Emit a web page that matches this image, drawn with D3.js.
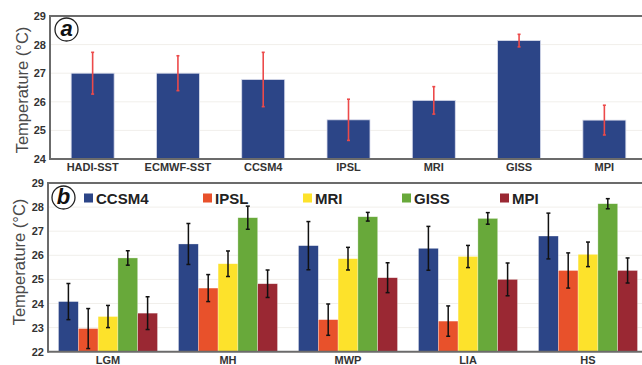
<!DOCTYPE html>
<html lang="en">
<head>
<meta charset="utf-8">
<title>Temperature</title>
<script src="https://d3js.org/d3.v7.min.js"></script>
<style>
  body { margin: 0; background: #fff; }
  text { font-family: Arial, "Liberation Sans", sans-serif; }
</style>
</head>
<body>
<div id="viz"></div>
<script>
// panel a: observations and models
const datasetsA = ["HADI-SST", "ECMWF-SST", "CCSM4", "IPSL", "MRI", "GISS", "MPI"];
const meanA = [27.0, 27.0, 26.78, 25.37, 26.05, 28.14, 25.36];
const errA = [0.73, 0.61, 0.95, 0.72, 0.48, 0.22, 0.52];
const ticksA = [24, 25, 26, 27, 28, 29];

// panel b: models per period
const periods = ["LGM", "MH", "MWP", "LIA", "HS"];
const models = ["CCSM4", "IPSL", "MRI", "GISS", "MPI"];
const meanB = {
  CCSM4: [24.08, 26.47, 26.40, 26.29, 26.80],
  IPSL:  [22.96, 24.64, 23.33, 23.27, 25.37],
  MRI:   [23.46, 25.65, 25.86, 25.95, 26.04],
  GISS:  [25.89, 27.56, 27.60, 27.53, 28.14],
  MPI:   [23.60, 24.82, 25.07, 25.00, 25.37]
};
const errB = {
  CCSM4: [0.75, 0.85, 1.00, 0.91, 0.95],
  IPSL:  [0.83, 0.56, 0.65, 0.63, 0.73],
  MRI:   [0.46, 0.53, 0.47, 0.46, 0.51],
  GISS:  [0.30, 0.48, 0.18, 0.24, 0.21],
  MPI:   [0.68, 0.57, 0.62, 0.68, 0.52]
};
const ticksB = [22, 23, 24, 25, 26, 27, 28, 29];
const colors = ["#2c4587", "#e8512b", "#fde22b", "#68a93a", "#9a2833"];

const W = 642, H = 365;
const svg = d3.select("#viz").append("svg")
    .attr("width", W).attr("height", H);

const axisColor = "#6b6b6b";

function yAxis(g, y, x0, ticks, xEnd) {
  // faint grid
  g.append("g").selectAll("line").data(ticks).join("line")
      .attr("x1", x0).attr("x2", xEnd)
      .attr("y1", d => y(d)).attr("y2", d => y(d))
      .attr("stroke", "#f1efeb").attr("stroke-width", 1);
  const ax = g.append("g")
      .attr("transform", `translate(${x0},0)`)
      .call(d3.axisLeft(y).tickValues(ticks).tickSize(0).tickPadding(4).tickFormat(d3.format("d")));
  ax.select(".domain").remove();
  ax.selectAll("text")
      .attr("font-size", 11).attr("font-weight", "bold").attr("fill", "#333");
}

function frame(g, x0, yTop, yBot) {
  g.append("line").attr("x1", x0).attr("x2", W).attr("y1", yTop).attr("y2", yTop)
      .attr("stroke", axisColor).attr("stroke-width", 2);
  g.append("line").attr("x1", x0).attr("x2", W).attr("y1", yBot).attr("y2", yBot)
      .attr("stroke", axisColor).attr("stroke-width", 2);
  g.append("line").attr("x1", x0).attr("x2", x0).attr("y1", yTop - 1).attr("y2", yBot + 1)
      .attr("stroke", axisColor).attr("stroke-width", 2);
}

function panelLabel(g, cx, cy, letter) {
  g.append("circle").attr("cx", cx).attr("cy", cy).attr("r", 11.5)
      .attr("fill", "#fff").attr("stroke", "#222").attr("stroke-width", 1.3);
  g.append("text").attr("x", cx).attr("y", cy + 6)
      .attr("text-anchor", "middle")
      .attr("font-family", "'Liberation Serif', 'DejaVu Serif', serif")
      .attr("font-style", "italic").attr("font-weight", "bold")
      .attr("font-size", 22).attr("fill", "#111")
      .text(letter);
}

function yTitle(g, x, y) {
  g.append("text")
      .attr("transform", `translate(${x},${y}) rotate(-90)`)
      .attr("text-anchor", "middle")
      .attr("font-size", 16.5).attr("fill", "#4a4a4a")
      .text("Temperature (\u00B0C)");
}

// ---------- panel a ----------
const gA = svg.append("g");
const xA = d3.scaleBand().domain(datasetsA).range([50, 647])
    .paddingInner(0.496).paddingOuter(0.248);
const yA = d3.scaleLinear().domain([24, 29]).range([159, 16]);

yAxis(gA, yA, 50, ticksA, W);

gA.append("g").selectAll("rect").data(datasetsA).join("rect")
    .attr("x", d => xA(d))
    .attr("width", xA.bandwidth())
    .attr("y", (d, i) => yA(meanA[i]))
    .attr("height", (d, i) => yA(24) - yA(meanA[i]))
    .attr("fill", "#2c4587")
    .attr("stroke", "#d9dcec").attr("stroke-width", 0.8);

const errGA = gA.append("g").attr("stroke", "#ec4a4a").attr("stroke-width", 1.6);
datasetsA.forEach((d, i) => {
  const cx = xA(d) + xA.bandwidth() / 2;
  const y1 = yA(meanA[i] + errA[i]), y2 = yA(meanA[i] - errA[i]);
  errGA.append("line").attr("x1", cx).attr("x2", cx).attr("y1", y1).attr("y2", y2);
  errGA.append("line").attr("x1", cx - 1.5).attr("x2", cx + 1.5).attr("y1", y1).attr("y2", y1);
  errGA.append("line").attr("x1", cx - 1.5).attr("x2", cx + 1.5).attr("y1", y2).attr("y2", y2);
});

frame(gA, 50, 16, 159);

gA.append("g").selectAll("text").data(datasetsA).join("text")
    .attr("x", d => xA(d) + xA.bandwidth() / 2)
    .attr("y", 171)
    .attr("text-anchor", "middle")
    .attr("font-size", 11).attr("font-weight", "bold").attr("fill", "#333")
    .text(d => d);

panelLabel(gA, 66.5, 29.5, "a");
yTitle(gA, 28, 90);

// ---------- panel b ----------
const gB = svg.append("g");
const x0 = d3.scaleBand().domain(periods).range([48, 648])
    .paddingInner(0.175).paddingOuter(0.0875);
const x1 = d3.scaleBand().domain(models).range([0, x0.bandwidth()]);
const yB = d3.scaleLinear().domain([22, 29]).range([351.7, 183]);

yAxis(gB, yB, 48, ticksB, W);

models.forEach((m, k) => {
  gB.append("g").selectAll("rect").data(periods).join("rect")
      .attr("x", d => x0(d) + x1(m))
      .attr("width", x1.bandwidth())
      .attr("y", (d, i) => yB(meanB[m][i]))
      .attr("height", (d, i) => yB(22) - yB(meanB[m][i]))
      .attr("fill", colors[k])
      .attr("stroke", "#ffffff").attr("stroke-opacity", 0.5).attr("stroke-width", 0.6);
});

const errGB = gB.append("g").attr("stroke", "#111").attr("stroke-width", 1.5);
models.forEach(m => {
  periods.forEach((p, i) => {
    const cx = x0(p) + x1(m) + x1.bandwidth() / 2;
    const y1 = yB(meanB[m][i] + errB[m][i]), y2 = yB(meanB[m][i] - errB[m][i]);
    errGB.append("line").attr("x1", cx).attr("x2", cx).attr("y1", y1).attr("y2", y2);
    errGB.append("line").attr("x1", cx - 2).attr("x2", cx + 2).attr("y1", y1).attr("y2", y1);
    errGB.append("line").attr("x1", cx - 2).attr("x2", cx + 2).attr("y1", y2).attr("y2", y2);
  });
});

frame(gB, 48, 183, 351.7);

gB.append("g").selectAll("text").data(periods).join("text")
    .attr("x", d => x0(d) + x0.bandwidth() / 2)
    .attr("y", 364)
    .attr("text-anchor", "middle")
    .attr("font-size", 11).attr("font-weight", "bold").attr("fill", "#333")
    .text(d => d);

// legend
const legendX = [84, 203, 303, 402, 500];
const leg = gB.append("g").selectAll("g").data(models).join("g")
    .attr("transform", (d, i) => `translate(${legendX[i]},198)`);
leg.append("rect").attr("x", 0).attr("y", -4.5).attr("width", 9).attr("height", 9)
    .attr("fill", (d, i) => colors[i]);
leg.append("text").attr("x", 12).attr("y", 5.5)
    .attr("font-size", 15).attr("font-weight", "bold").attr("fill", "#222")
    .text(d => d);

panelLabel(gB, 63.5, 197.5, "b");
yTitle(gB, 25, 262);
</script>
</body>
</html>
